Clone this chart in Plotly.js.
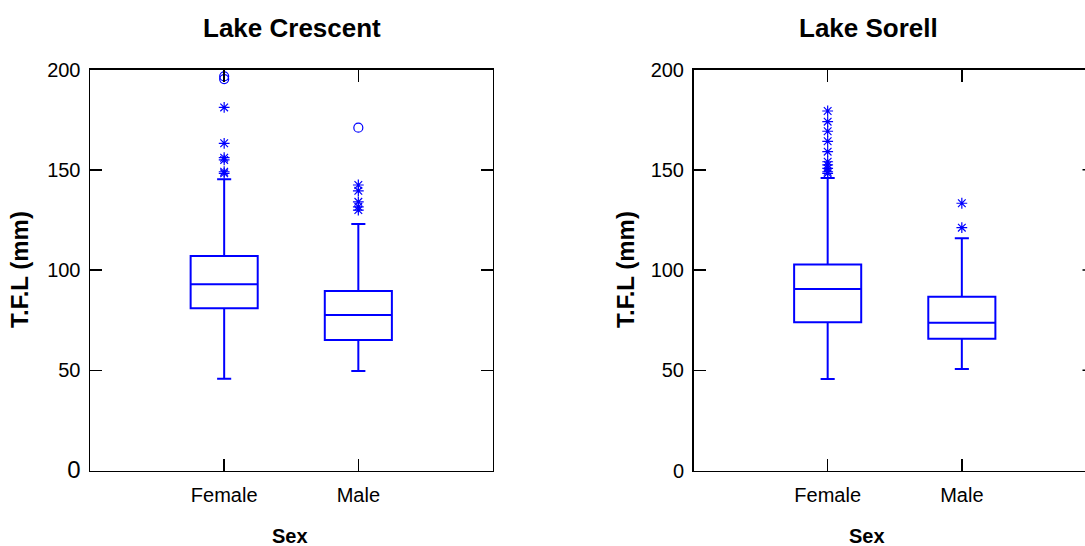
<!DOCTYPE html>
<html>
<head>
<meta charset="utf-8">
<script src="https://cdn.plot.ly/plotly-3.0.1.min.js"></script>
<style>
html,body{margin:0;padding:0;overflow:hidden;background:#fff;}
#chart{width:1085px;height:546px;}
</style>
</head>
<body>
<div id="chart"></div>
<script>
// ---- data ----
const categories = ['Female', 'Male'];
const yTickVals = [0, 50, 100, 150, 200];

// Lake Crescent
const crescentQ1 = [80.9, 65.1];
const crescentMedian = [92.9, 77.6];
const crescentQ3 = [107.0, 89.5];
const crescentLower = [45.8, 49.6];
const crescentUpper = [145.2, 122.9];
const crescentFemaleStars = [148.2, 149.0, 154.9, 156.0, 163.2, 181.1];
const crescentFemaleCircles = [195.2, 196.6];
const crescentMaleStars = [129.9, 131.5, 134.0, 139.5, 142.4];
const crescentMaleCircles = [171.0];

// Lake Sorell
const sorellQ1 = [73.9, 65.7];
const sorellMedian = [90.5, 73.7];
const sorellQ3 = [102.8, 86.7];
const sorellLower = [45.6, 50.6];
const sorellUpper = [145.9, 115.8];
const sorellFemaleStars = [148.2, 149.0, 150.7, 152.4, 154.0, 159.0, 164.2, 169.2, 174.0, 179.3];
const sorellMaleStars = [121.1, 133.3];

// ---- layout helpers ----
const W = 1085, H = 546;
const FONT = 'Liberation Sans, Arial, sans-serif';
const BLUE = '#0000ff';
const px = x => x / W;
const py = y => 1 - y / H;

function boxTrace(q1, med, q3, lo, hi, xa, ya) {
  return {
    type: 'box', x: categories, q1: q1, median: med, q3: q3,
    lowerfence: lo, upperfence: hi, boxpoints: false,
    width: 0.5, whiskerwidth: 0.21,
    line: {color: BLUE, width: 2}, fillcolor: 'rgba(0,0,0,0)',
    xaxis: xa, yaxis: ya, hoverinfo: 'skip', showlegend: false
  };
}
function pts(cat, vals, symbol, xa, ya) {
  return {
    type: 'scatter', mode: 'markers',
    x: vals.map(() => cat), y: vals,
    marker: {symbol: symbol, size: 9, color: BLUE, line: {color: BLUE, width: 1.2}},
    xaxis: xa, yaxis: ya, showlegend: false, hoverinfo: 'skip', cliponaxis: false
  };
}

const data = [
  boxTrace(crescentQ1, crescentMedian, crescentQ3, crescentLower, crescentUpper, 'x', 'y'),
  pts('Female', crescentFemaleStars, 'asterisk-open', 'x', 'y'),
  pts('Female', crescentFemaleCircles, 'circle-open', 'x', 'y'),
  pts('Male', crescentMaleStars, 'asterisk-open', 'x', 'y'),
  pts('Male', crescentMaleCircles, 'circle-open', 'x', 'y'),
  boxTrace(sorellQ1, sorellMedian, sorellQ3, sorellLower, sorellUpper, 'x2', 'y2'),
  pts('Female', sorellFemaleStars, 'asterisk-open', 'x2', 'y2'),
  pts('Male', sorellMaleStars, 'asterisk-open', 'x2', 'y2')
];

const yTop = py(69.5), yBot = py(470.5);
const L1 = 90, R1 = 492.5;           // left panel pixel edges
const unit = (R1 - L1) / 3;           // pixels per category step
const L2 = 693.5;                     // right panel left edge (its right edge lies past the page)
const dom1 = [px(L1), px(R1)];
const dom2 = [px(L2), 1];
const range2 = [-1, -1 + (W - L2) / unit];

function mainX(dom, anchor, range) {
  return {
    domain: dom, anchor: anchor, type: 'category', categoryorder: 'array', categoryarray: categories,
    range: range, showline: true, mirror: 'ticks', linecolor: '#000', linewidth: 1.5,
    ticks: 'inside', ticklen: 12, tickwidth: 1.5, tickcolor: '#000',
    showgrid: false, zeroline: false, fixedrange: true,
    tickfont: {family: FONT, size: 20, color: '#000'}, ticklabelstandoff: 6
  };
}
function mainY(dom, anchor, texts, mirror) {
  return {
    domain: [yBot, yTop], anchor: anchor, range: [0, 200],
    tickvals: yTickVals, ticktext: texts,
    showline: true, mirror: mirror, linecolor: '#000', linewidth: 1.5,
    ticks: 'inside', ticklen: 12, tickwidth: 1.5, tickcolor: '#000',
    showgrid: false, zeroline: false, fixedrange: true,
    tickfont: {family: FONT, size: 20, color: '#000'}, ticklabelstandoff: 4
  };
}

const ann = (text, x, y, size, angle) => ({
  text: '<b>' + text + '</b>', xref: 'paper', yref: 'paper', x: px(x), y: py(y),
  xanchor: 'center', yanchor: 'middle', showarrow: false, textangle: angle || 0,
  font: {family: FONT, size: size, color: '#000'}
});

// tips of the right-hand ticks of the cut-off right panel
const tipShapes = yTickVals.slice(1, 4).map(v => ({
  type: 'line', xref: 'paper', yref: 'y2', x0: px(1082.5), x1: 1, y0: v, y1: v,
  line: {color: '#000', width: 1.5}, layer: 'above'
}));

const layout = {
  width: W, height: H,
  margin: {l: 0, r: 0, t: 0, b: 0, pad: 0},
  paper_bgcolor: '#fff', plot_bgcolor: 'rgba(0,0,0,0)',
  showlegend: false,
  xaxis: mainX(dom1, 'y', [-1, 2]),
  yaxis: mainY(dom1, 'x', ['<span style="font-size:24px">0</span>', '50', '100', '150', '200'], 'ticks'),
  xaxis2: mainX(dom2, 'y2', range2),
  yaxis2: mainY(dom2, 'x2', ['0', '50', '100', '150', '200'], false),
  shapes: [
    {type: 'rect', xref: 'paper', yref: 'paper', x0: px(1078), x1: 1, y0: py(468), y1: py(72),
     fillcolor: '#fff', line: {width: 0}, layer: 'above'}
  ].concat(tipShapes),
  annotations: [
    ann('Lake Crescent', 292, 28, 26),
    ann('Lake Sorell', 868, 28, 26),
    ann('Sex', 290, 536, 20),
    ann('Sex', 867, 536, 20),
    ann('T.F.L (mm)', 19, 270, 24, -90),
    ann('T.F.L (mm)', 625, 270, 24, -90)
  ]
};

Plotly.newPlot('chart', data, layout, {staticPlot: true, displayModeBar: false});
</script>
</body>
</html>
